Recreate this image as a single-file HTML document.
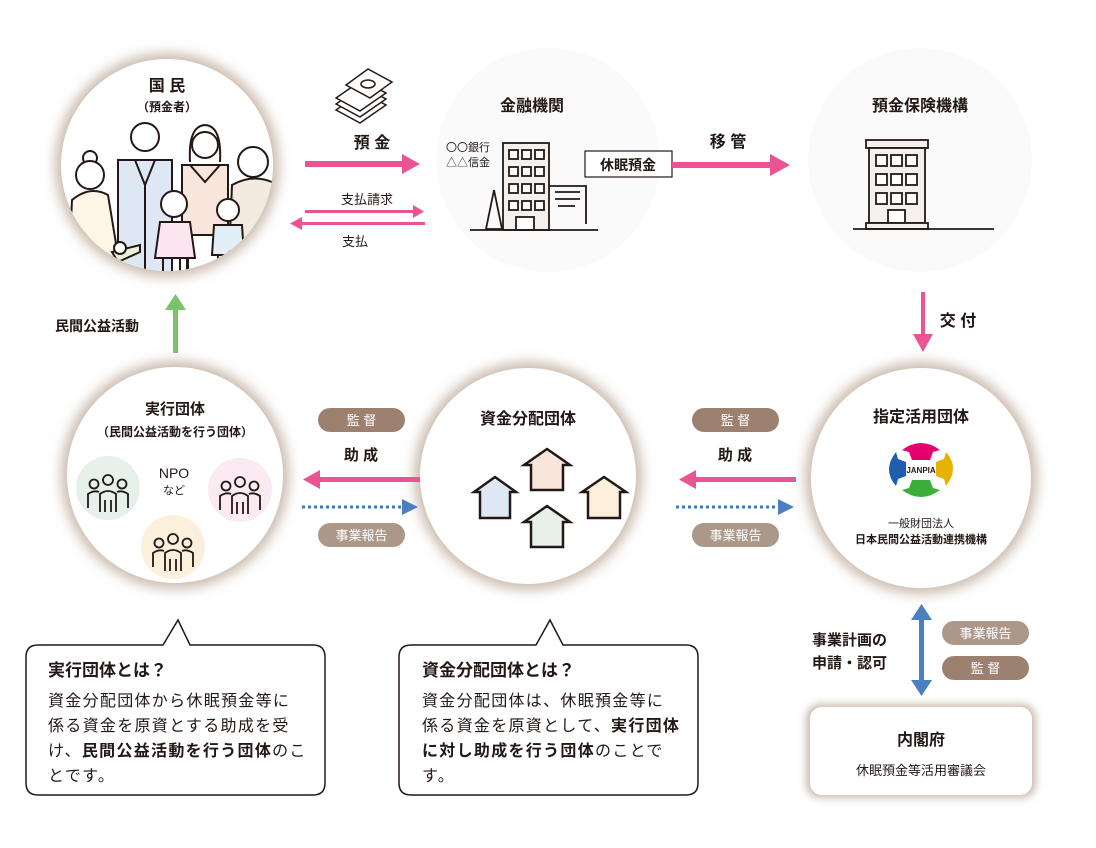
<!DOCTYPE html>
<html><head><meta charset="utf-8">
<style>
html,body{margin:0;padding:0;background:#fff;}
svg{display:block;}
text{font-family:"Liberation Sans","Noto Sans CJK JP",sans-serif;fill:#231815;}
.b{font-weight:bold;}
.body{font-size:16px;letter-spacing:1.3px;}
</style></head><body>
<svg width="1096" height="848" viewBox="0 0 1096 848" xmlns="http://www.w3.org/2000/svg">
<defs>
<filter id="sh" x="-30%" y="-30%" width="160%" height="160%"><feGaussianBlur stdDeviation="6"/></filter>
<filter id="sh2" x="-30%" y="-30%" width="160%" height="160%"><feGaussianBlur stdDeviation="4"/></filter>
<clipPath id="c1"><circle cx="167" cy="165" r="106"/></clipPath>
<g id="ppl" stroke="#231815" stroke-width="1.8" fill="none">
<circle cx="0" cy="-14" r="5"/><circle cx="-14" cy="-10" r="4.5"/><circle cx="14" cy="-10" r="4.5"/>
<path d="M-8 18 L-8 0 Q0 -6 8 0 L8 18 M-3 6 L-3 18 M3 6 L3 18"/>
<path d="M-20 14 L-20 0 Q-14 -4 -9 -2 M20 14 L20 0 Q14 -4 9 -2"/>
</g>
</defs>

<circle cx="548" cy="160" r="112" fill="#fafafa"/>
<circle cx="920" cy="160" r="112" fill="#fafafa"/>

<circle cx="167" cy="165" r="112" fill="#cbbcae" filter="url(#sh)"/>
<circle cx="167" cy="165" r="106" fill="#fff"/>
<circle cx="175" cy="475" r="114" fill="#cbbcae" filter="url(#sh)"/>
<circle cx="175" cy="475" r="108" fill="#fff"/>
<circle cx="528" cy="476" r="114" fill="#cbbcae" filter="url(#sh)"/>
<circle cx="528" cy="476" r="108" fill="#fff"/>
<circle cx="921" cy="478" r="116" fill="#cbbcae" filter="url(#sh)"/>
<circle cx="921" cy="478" r="110" fill="#fff"/>

<g clip-path="url(#c1)" stroke="#231815" stroke-width="2">
<path d="M68 280 L72 200 Q90 185 108 195 L122 280 Z" fill="#fdf5e6"/>
<circle cx="90" cy="158" r="7" fill="#fff"/>
<circle cx="90" cy="175" r="14" fill="#fff"/>
<path d="M228 280 L232 185 Q255 172 278 185 L290 215 L290 280 Z" fill="#f3ebe0"/>
<circle cx="253" cy="162" r="15" fill="#fff"/>
<path d="M118 280 L118 160 L172 160 L172 280 Z" fill="#dde8f4"/>
<path d="M135 160 L145 185 L155 160" fill="none"/>
<line x1="145" y1="185" x2="145" y2="280"/>
<circle cx="145" cy="137" r="14" fill="#fff"/>
<path d="M182 235 L182 165 L228 165 L228 235 Z" fill="#f8e6dc"/>
<path d="M190 165 L205 182 L220 165" fill="none"/>
<rect x="187" y="235" width="36" height="45" fill="#fff"/>
<path d="M190 162 Q188 126 205 125 Q222 126 220 162" fill="#fff"/>
<circle cx="205" cy="145" r="13" fill="#fff"/>
<path d="M155 258 L160 222 L190 222 L195 258 Z" fill="#fbe6ef"/>
<path d="M163 258 L163 280 M172 258 L172 280 M180 258 L180 280 M188 258 L188 280" />
<circle cx="174" cy="204" r="13" fill="#fff"/>
<path d="M212 255 L214 225 L242 225 L244 255 Z" fill="#e3eff8"/>
<path d="M218 255 L218 280 M238 255 L238 280"/>
<circle cx="228" cy="210" r="11" fill="#fff"/>
<path d="M112 252 L140 245 L140 252 L118 262 Z" fill="#e8f0d8"/>
<circle cx="120" cy="248" r="6" fill="#fff"/>
</g>
<text x="167" y="91" font-size="16" class="b" text-anchor="middle">国 民</text>
<text x="167" y="111" font-size="12" class="b" text-anchor="middle">（預金者）</text>

<g stroke="#231815" stroke-width="1.5" fill="#fff">
<path d="M336 110 L360 123 L386 105 L362 92 Z"/>
<path d="M336 104 L360 117 L386 99 L362 86 Z"/>
<path d="M336 98 L360 111 L386 93 L362 80 Z"/>
<path d="M346 85 L370 98 L392 82 L368 69 Z"/>
<ellipse cx="368" cy="84" rx="7" ry="4" fill="none"/>
</g>

<text x="372" y="148" font-size="16" class="b" text-anchor="middle">預 金</text>
<rect x="305" y="161" width="98" height="6" fill="#ea5394"/>
<path d="M402 154 L420 164 L402 174 Z" fill="#ea5394"/>
<text x="367" y="204" font-size="13" text-anchor="middle">支払請求</text>
<rect x="305" y="210" width="110" height="3" fill="#ea5394"/>
<path d="M413 205 L424 211.5 L413 218 Z" fill="#ea5394"/>
<rect x="300" y="222" width="125" height="3" fill="#ea5394"/>
<path d="M302 217 L290 223.5 L302 230 Z" fill="#ea5394"/>
<text x="355" y="246" font-size="13" text-anchor="middle">支払</text>

<text x="532" y="111" font-size="16" class="b" text-anchor="middle">金融機関</text>
<text x="446" y="151" font-size="11">〇〇銀行</text>
<text x="446" y="166" font-size="11">△△信金</text>
<g stroke="#231815" stroke-width="1.8" fill="none">
<rect x="503" y="143" width="46" height="87" fill="#f3f0ed"/>
<g fill="#fff">
<rect x="509" y="150" width="9" height="9"/><rect x="522" y="150" width="9" height="9"/><rect x="535" y="150" width="9" height="9"/>
<rect x="509" y="167" width="9" height="9"/><rect x="522" y="167" width="9" height="9"/><rect x="535" y="167" width="9" height="9"/>
<rect x="509" y="184" width="9" height="9"/><rect x="522" y="184" width="9" height="9"/><rect x="535" y="184" width="9" height="9"/>
<rect x="509" y="201" width="9" height="9"/><rect x="522" y="201" width="9" height="9"/><rect x="535" y="201" width="9" height="9"/>
<rect x="516" y="217" width="18" height="13"/>
</g>
<path d="M549 186 L586 186 L586 224"/>
<path d="M555 192 L580 192 M555 199 L580 199 M558 206 L575 206"/>
<path d="M486 229 L494 190 L502 229 Z"/>
<line x1="470" y1="230" x2="598" y2="230"/>
</g>
<rect x="585" y="151" width="87" height="26" fill="#fff" stroke="#231815" stroke-width="1.2"/>
<text x="628" y="170" font-size="14" class="b" text-anchor="middle">休眠預金</text>
<text x="728" y="147" font-size="16" class="b" text-anchor="middle">移 管</text>
<rect x="672" y="162" width="100" height="6" fill="#ea5394"/>
<path d="M770 154 L790 165 L770 176 Z" fill="#ea5394"/>

<text x="920" y="111" font-size="16" class="b" text-anchor="middle">預金保険機構</text>
<g stroke="#231815" stroke-width="1.8">
<rect x="866" y="140" width="62" height="8" fill="#f3f0ed"/>
<rect x="869" y="148" width="56" height="75" fill="#f3f0ed"/>
<g fill="#fff">
<rect x="876" y="155" width="11" height="11"/><rect x="891" y="155" width="11" height="11"/><rect x="906" y="155" width="11" height="11"/>
<rect x="876" y="174" width="11" height="11"/><rect x="891" y="174" width="11" height="11"/><rect x="906" y="174" width="11" height="11"/>
<rect x="876" y="193" width="11" height="11"/><rect x="891" y="193" width="11" height="11"/><rect x="906" y="193" width="11" height="11"/>
<rect x="888" y="210" width="17" height="13"/>
</g>
<rect x="866" y="223" width="62" height="6" fill="#f3f0ed"/>
<line x1="853" y1="229" x2="994" y2="229"/>
</g>

<rect x="921" y="292" width="4" height="44" fill="#ea5394"/>
<path d="M913 334 L923 352 L933 334 Z" fill="#ea5394"/>
<text x="958" y="326" font-size="16" class="b" text-anchor="middle">交 付</text>

<text x="97" y="331" font-size="14" class="b" text-anchor="middle">民間公益活動</text>
<rect x="173" y="308" width="5" height="45" fill="#7ac36a"/>
<path d="M165 310 L175.5 294 L186 310 Z" fill="#7ac36a"/>

<text x="175" y="414" font-size="15" class="b" text-anchor="middle">実行団体</text>
<text x="175" y="436" font-size="12" class="b" text-anchor="middle">（民間公益活動を行う団体）</text>
<circle cx="108" cy="488" r="32" fill="#e5f1ea"/>
<circle cx="240" cy="490" r="32" fill="#fbeaf1"/>
<circle cx="173" cy="547" r="32" fill="#fcefdc"/>
<use href="#ppl" x="108" y="494"/>
<use href="#ppl" x="240" y="496"/>
<use href="#ppl" x="173" y="553"/>
<text x="174" y="478" font-size="14" text-anchor="middle">NPO</text>
<text x="174" y="494" font-size="11" text-anchor="middle">など</text>

<text x="528" y="424" font-size="16" class="b" text-anchor="middle">資金分配団体</text>
<g stroke="#231815" stroke-width="2.5">
<path d="M474 492 L495 477 L516 492 L510 492 L510 518 L480 518 L480 492 Z" fill="#dde8f4"/>
<path d="M524 465 L547 449 L570 465 L563 465 L563 490 L531 490 L531 465 Z" fill="#f8e6dc"/>
<path d="M582 492 L604 477 L626 492 L620 492 L620 518 L588 518 L588 492 Z" fill="#fcefdc"/>
<path d="M524 522 L547 506 L570 522 L563 522 L563 547 L531 547 L531 522 Z" fill="#e5f1ea"/>
</g>

<rect x="318" y="408" width="87" height="24" rx="12" fill="#9c8170"/>
<text x="361.5" y="425" font-size="13" text-anchor="middle" style="fill:#fff">監 督</text>
<text x="361" y="460" font-size="15" class="b" text-anchor="middle">助 成</text>
<rect x="318" y="477" width="102" height="5" fill="#ea5394"/>
<path d="M320 470 L303 479.5 L320 489 Z" fill="#ea5394"/>
<line x1="302" y1="507" x2="402" y2="507" stroke="#3e7ac0" stroke-width="3" stroke-dasharray="3,3"/>
<path d="M402 499 L418 507 L402 515 Z" fill="#4a80c0"/>
<rect x="318" y="523" width="87" height="24" rx="12" fill="#ac9888"/>
<text x="361.5" y="540" font-size="13" text-anchor="middle" style="fill:#fff">事業報告</text>

<rect x="692" y="408" width="87" height="24" rx="12" fill="#9c8170"/>
<text x="735.5" y="425" font-size="13" text-anchor="middle" style="fill:#fff">監 督</text>
<text x="735" y="460" font-size="15" class="b" text-anchor="middle">助 成</text>
<rect x="694" y="477" width="102" height="5" fill="#ea5394"/>
<path d="M696 470 L679 479.5 L696 489 Z" fill="#ea5394"/>
<line x1="676" y1="507" x2="778" y2="507" stroke="#3e7ac0" stroke-width="3" stroke-dasharray="3,3"/>
<path d="M778 499 L794 507 L778 515 Z" fill="#4a80c0"/>
<rect x="692" y="523" width="87" height="24" rx="12" fill="#ac9888"/>
<text x="735.5" y="540" font-size="13" text-anchor="middle" style="fill:#fff">事業報告</text>

<text x="921" y="422" font-size="16" class="b" text-anchor="middle">指定活用団体</text>
<g>
<path d="M902 450 Q921 436 940 450 L933 452 L930 460 L912 460 L909 452 Z" fill="#e5006e"/>
<path d="M946 452 Q960 468 946 486 L944 479 L936 476 L936 462 L944 459 Z" fill="#e8b000"/>
<path d="M940 490 Q921 504 902 490 L909 488 L912 480 L930 480 L933 488 Z" fill="#3cae3a"/>
<path d="M896 486 Q882 470 896 452 L898 459 L906 462 L906 476 L898 479 Z" fill="#1d5eb0"/>
<text x="921" y="473" font-size="8" class="b" text-anchor="middle">JANPIA</text>
</g>
<text x="921" y="527" font-size="11" text-anchor="middle">一般財団法人</text>
<text x="921" y="543" font-size="11" class="b" text-anchor="middle">日本民間公益活動連携機構</text>

<rect x="919" y="618" width="5" height="64" fill="#4a80c0"/>
<path d="M911 620 L921.5 604 L932 620 Z" fill="#4a80c0"/>
<path d="M911 680 L921.5 696 L932 680 Z" fill="#4a80c0"/>
<text x="812" y="645" font-size="15" class="b">事業計画の</text>
<text x="812" y="668" font-size="15" class="b">申請・認可</text>
<rect x="942" y="621" width="87" height="24" rx="12" fill="#ac9888"/>
<text x="985.5" y="638" font-size="13" text-anchor="middle" style="fill:#fff">事業報告</text>
<rect x="942" y="656" width="87" height="24" rx="12" fill="#9c8170"/>
<text x="985.5" y="673" font-size="13" text-anchor="middle" style="fill:#fff">監 督</text>

<rect x="806" y="704" width="230" height="94" rx="14" fill="#cbbcae" filter="url(#sh2)"/>
<rect x="810" y="707" width="222" height="88" rx="12" fill="#fff"/>
<text x="921" y="745" font-size="16" class="b" text-anchor="middle">内閣府</text>
<text x="921" y="775" font-size="13" text-anchor="middle">休眠預金等活用審議会</text>

<path d="M38 645 L163 645 L178 620 L190 645 L313 645 Q325 645 325 657 L325 783 Q325 795 313 795 L38 795 Q26 795 26 783 L26 657 Q26 645 38 645 Z" fill="#fff" stroke="#231815" stroke-width="1.5"/>
<text x="48" y="676" font-size="17" class="b">実行団体とは？</text>
<text x="48" y="706" class="body">資金分配団体から休眠預金等に</text>
<text x="48" y="731" class="body">係る資金を原資とする助成を受</text>
<text x="48" y="756" class="body">け、<tspan class="b">民間公益活動を行う団体</tspan>のこ</text>
<text x="48" y="781" class="body">とです。</text>

<path d="M411 645 L536 645 L550 620 L563 645 L686 645 Q698 645 698 657 L698 783 Q698 795 686 795 L411 795 Q399 795 399 783 L399 657 Q399 645 411 645 Z" fill="#fff" stroke="#231815" stroke-width="1.5"/>
<text x="422" y="676" font-size="17" class="b">資金分配団体とは？</text>
<text x="422" y="706" class="body">資金分配団体は、休眠預金等に</text>
<text x="422" y="731" class="body">係る資金を原資として、<tspan class="b">実行団体</tspan></text>
<text x="422" y="756" class="body"><tspan class="b">に対し助成を行う団体</tspan>のことで</text>
<text x="422" y="781" class="body">す。</text>
</svg>
</body></html>
